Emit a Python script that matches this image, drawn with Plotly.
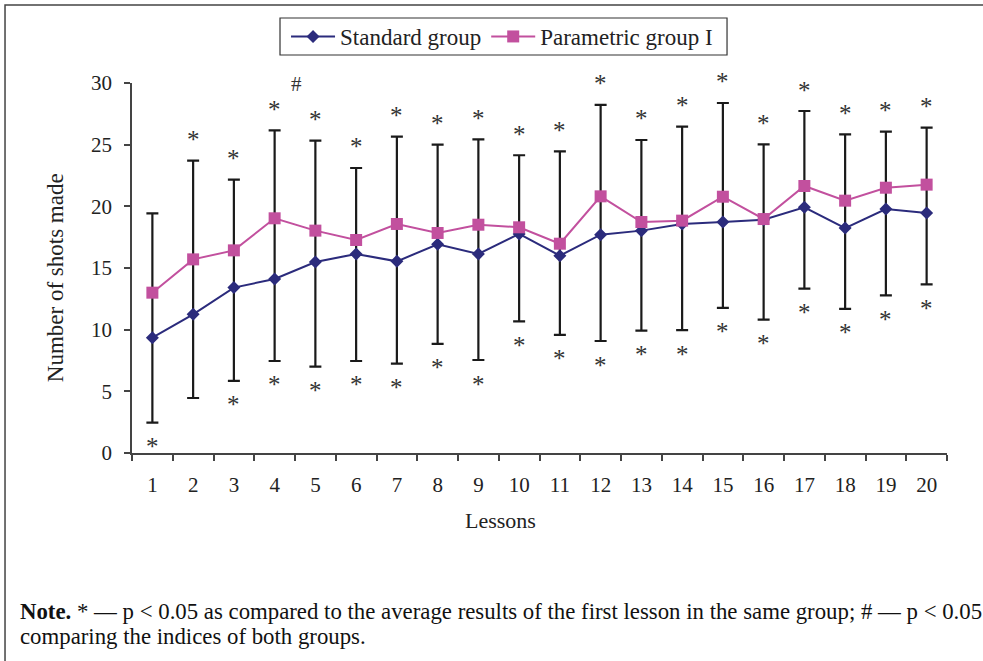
import plotly.graph_objects as go

# ---- data ----
lessons = ["1", "2", "3", "4", "5", "6", "7", "8", "9", "10",
           "11", "12", "13", "14", "15", "16", "17", "18", "19", "20"]
std_mean = [9.35, 11.24, 13.41, 14.11, 15.49, 16.14, 15.54, 16.92, 16.14, 17.76,
            16.00, 17.70, 18.03, 18.57, 18.73, 18.92, 19.92, 18.24, 19.78, 19.46]
std_sd = [6.89, 6.78, 7.57, 6.65, 8.49, 8.68, 8.30, 8.08, 8.60, 7.08,
          6.43, 8.62, 8.11, 8.60, 6.97, 8.11, 6.60, 6.56, 7.00, 5.78]
par_mean = [13.00, 15.70, 16.43, 19.03, 18.03, 17.27, 18.57, 17.84, 18.51, 18.30,
            16.97, 20.81, 18.73, 18.84, 20.78, 18.97, 21.65, 20.46, 21.51, 21.76]
par_sd = [6.43, 8.00, 5.73, 7.13, 7.30, 5.84, 7.08, 7.16, 6.92, 5.84,
          7.49, 7.41, 6.65, 7.62, 7.60, 6.06, 6.08, 5.38, 4.54, 4.62]
# significance marks: * above (parametric group), * below (standard group), # between groups
star_upper = [0, 1, 1, 1, 1, 1, 1, 1, 1, 1, 1, 1, 1, 1, 1, 1, 1, 1, 1, 1]
star_lower = [1, 0, 1, 1, 1, 1, 1, 1, 1, 1, 1, 1, 1, 1, 1, 1, 1, 1, 1, 1]
hash_lessons = ["4"]

FONT = "Liberation Serif, Times New Roman, serif"
BLUE = "#2B2B7C"
PINK = "#C2509E"

upper = [m + s for m, s in zip(par_mean, par_sd)]
lower = [m - s for m, s in zip(std_mean, std_sd)]

fig = go.Figure()

# combined error bar: from parametric mean + SD down to standard mean - SD
fig.add_trace(go.Scatter(
    x=lessons, y=par_mean, mode="markers", marker=dict(size=1, opacity=0),
    showlegend=False, hoverinfo="skip",
    error_y=dict(type="data", symmetric=False, array=par_sd,
                 arrayminus=[p - l for p, l in zip(par_mean, lower)],
                 color="#1a1a1a", thickness=2.2, width=6)))

fig.add_trace(go.Scatter(
    x=lessons, y=std_mean, mode="lines+markers", name="Standard group",
    line=dict(color=BLUE, width=2),
    marker=dict(symbol="diamond", size=10, color=BLUE)))
fig.add_trace(go.Scatter(
    x=lessons, y=par_mean, mode="lines+markers", name="Parametric group I",
    line=dict(color=PINK, width=2),
    marker=dict(symbol="square", size=12, color=PINK)))

STAR = dict(family=FONT, size=25, color="#333333")
ann = []
for i, (u, l, su, sl) in enumerate(zip(upper, lower, star_upper, star_lower)):
    if su:
        ann.append(dict(x=i, y=u, text="*", showarrow=False, yanchor="middle",
                        yshift=21, font=STAR))
    if sl:
        ann.append(dict(x=i, y=l, text="*", showarrow=False, yanchor="middle",
                        yshift=-24, font=STAR))
for lab in hash_lessons:
    i = lessons.index(lab)
    ann.append(dict(x=i, y=upper[i], text="#", showarrow=False, yanchor="middle",
                    xshift=22, yshift=46, font=dict(family=FONT, size=21, color="#333333")))

# axis titles
ann.append(dict(xref="paper", yref="paper", x=0.452, y=-0.183, text="Lessons",
                showarrow=False, xanchor="center", yanchor="middle",
                font=dict(family=FONT, size=22, color="#222")))
ann.append(dict(xref="paper", yref="paper", x=-0.093, y=0.473, text="Number of shots made",
                showarrow=False, xanchor="center", yanchor="middle", textangle=-90,
                font=dict(family=FONT, size=23, color="#222")))
# note
NOTE = dict(family=FONT, size=22.8, color="#111")
ann.append(dict(xref="paper", yref="paper", x=-0.1399, y=-0.4297, xanchor="left", yanchor="middle",
                showarrow=False, align="left",
                text="<b>Note.</b> * — p &lt; 0.05 as compared to the average results of the first lesson in the same group; # — p &lt; 0.05",
                font=NOTE))
ann.append(dict(xref="paper", yref="paper", x=-0.1399, y=-0.4946, xanchor="left", yanchor="middle",
                showarrow=False, align="left",
                text="comparing the indices of both groups.",
                font=NOTE))

fig.update_layout(
    width=983, height=661,
    margin=dict(l=132, r=36, t=83, b=208),
    paper_bgcolor="white", plot_bgcolor="white",
    font=dict(family=FONT, size=21, color="#222"),
    showlegend=True,
    legend=dict(orientation="h", x=0.189, y=1.1257, xanchor="left", yanchor="middle",
                borderwidth=0, bgcolor="rgba(0,0,0,0)",
                font=dict(family=FONT, size=23, color="#222"),
                itemwidth=44, itemclick=False),
    annotations=ann,
    shapes=[dict(type="rect", xref="paper", yref="paper",
                 x0=-0.1558, x1=1.06, y0=-0.65, y1=1.2108,
                 line=dict(color="#444", width=1.5), fillcolor="rgba(0,0,0,0)", layer="below"),
            dict(type="rect", xref="paper", yref="paper",
                 x0=0.1816, x1=0.7301, y0=1.0757, y1=1.1757,
                 line=dict(color="#333", width=1.2), fillcolor="white", layer="below")],
)
fig.update_xaxes(type="category", range=[-0.5, 19.5], showgrid=False, zeroline=False,
                 showline=True, linecolor="#444", linewidth=1.5,
                 ticks="outside", tickson="boundaries", ticklen=6, tickcolor="#444", tickwidth=1.5,
                 ticklabelstandoff=12,
                 tickfont=dict(family=FONT, size=21, color="#222"))
fig.update_yaxes(range=[0, 30], dtick=5, showgrid=False, zeroline=False,
                 showline=True, linecolor="#444", linewidth=1.5,
                 ticks="outside", ticklen=6, tickcolor="#444", tickwidth=1.5,
                 ticklabelstandoff=8,
                 tickfont=dict(family=FONT, size=21, color="#222"))

fig.write_html("out.html")
